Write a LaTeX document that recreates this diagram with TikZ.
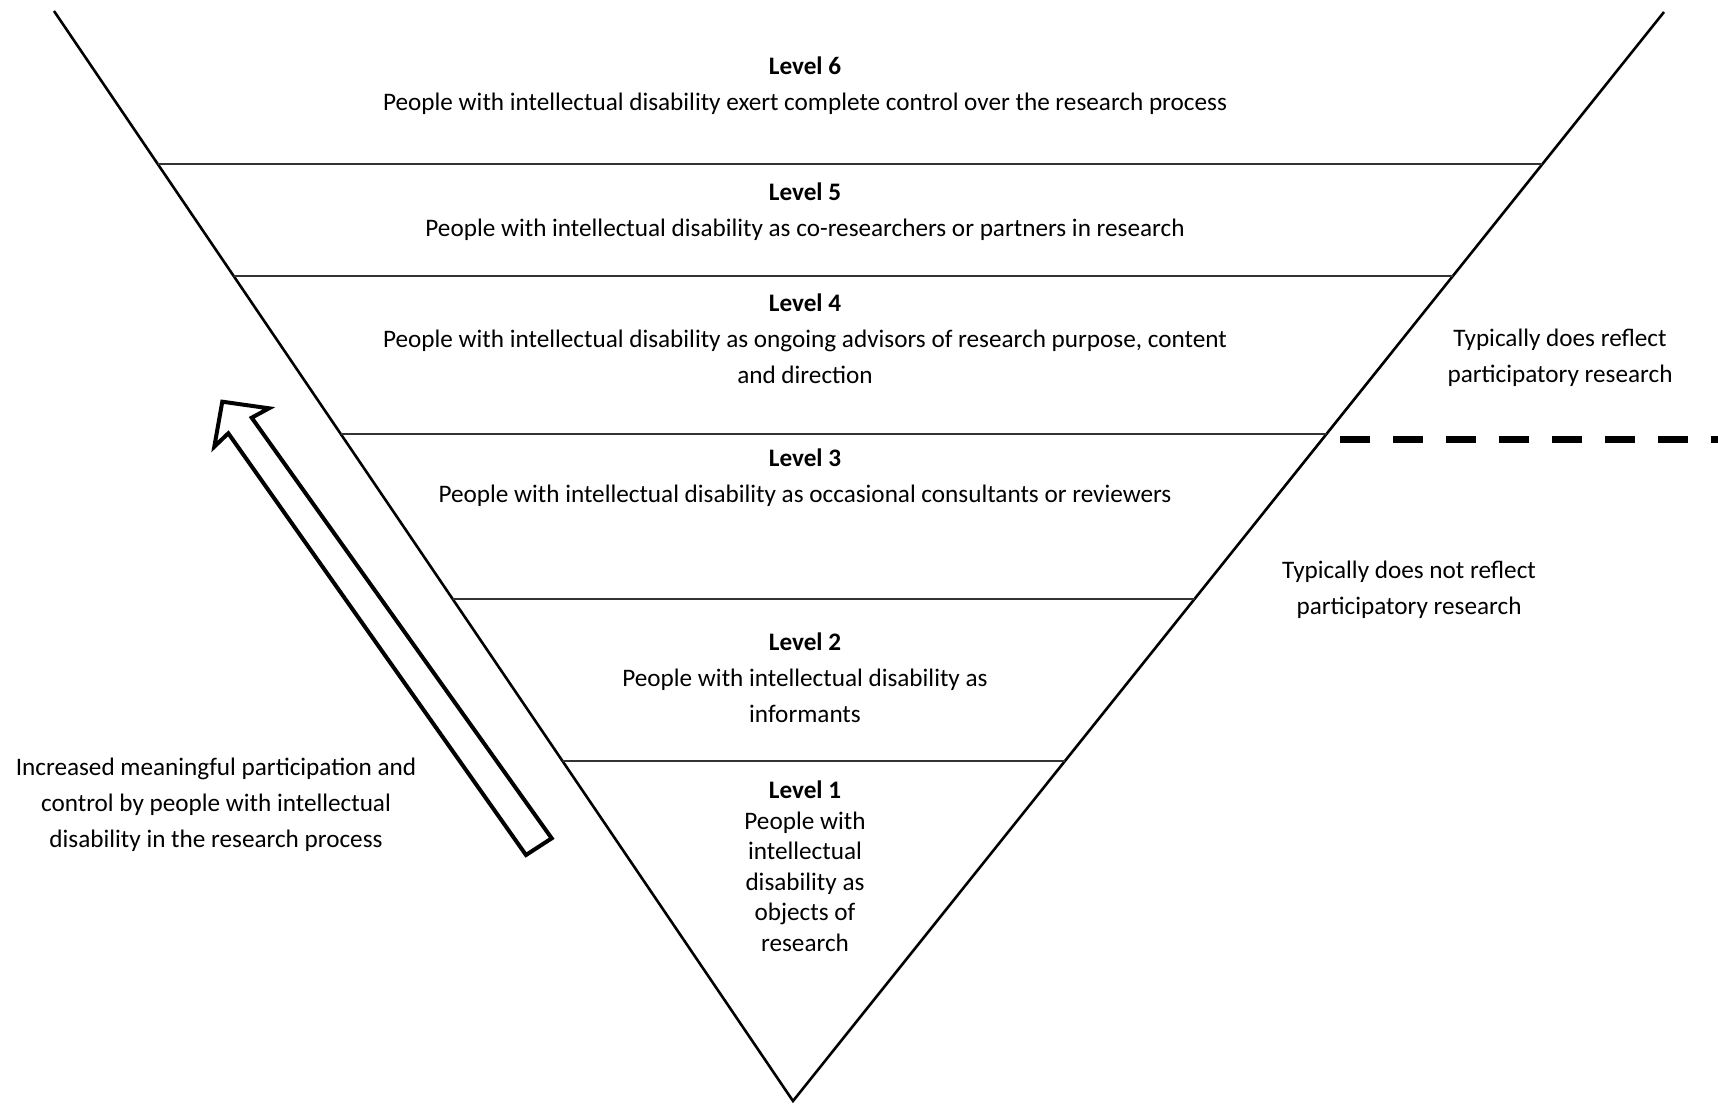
\documentclass[tikz,border=0pt]{standalone}
\usepackage{fontspec}
\setmainfont{Carlito}
\usetikzlibrary{calc}

\tikzset{
  rung/.style={line width=0.8pt, black!80},
  leveltext/.style={align=center, anchor=base, inner sep=0pt,
    font=\fontsize{12.6}{18}\selectfont},
  narrowtext/.style={leveltext, font=\fontsize{12.6}{15.25}\selectfont},
}

\begin{document}
\begin{tikzpicture}[x=0.5pt, y=-0.5pt]
  \useasboundingbox (0,0) rectangle (1718,1103);

  % funnel
  \draw [line width=1.3pt]
    (54,11) coordinate (TL)
    (1664,12) coordinate (TR)
    (793,1101) coordinate (V)
    (TL) -- (V) -- (TR);

  % rungs between the levels
  \foreach \y in {164, 276, 434, 599, 761} {
    \draw [rung] ($(TL)!{(\y-11)/1090}!(V)$) -- ($(TR)!{(\y-12)/1089}!(V)$);
  }

  % anchor base = baseline of the last line
  \node (lvl6) [leveltext] at (805,110)
    {\textbf{Level 6}\\People with intellectual disability exert complete control over the research process};
  \node (lvl5) [leveltext] at (805,236)
    {\textbf{Level 5}\\People with intellectual disability as co-researchers or partners in research};
  \node (lvl4) [leveltext] at (805,383)
    {\textbf{Level 4}\\People with intellectual disability as ongoing advisors of research purpose, content\\and direction};
  \node (lvl3) [leveltext] at (805,502)
    {\textbf{Level 3}\\People with intellectual disability as occasional consultants or reviewers};
  \node (lvl2) [leveltext] at (805,722)
    {\textbf{Level 2}\\People with intellectual disability as\\informants};
  \node (lvl1) [narrowtext] at (805,951)
    {\textbf{Level 1}\\People with\\intellectual\\disability as\\objects of\\research};

  % block arrow
  \draw [line width=2pt, line join=miter]
    (551.7,838.3) -- (251.7,417.7) -- (269,408.3) -- (222.3,401.7)
    -- (214.3,446.7) -- (228.3,433.3) -- (526,855) -- cycle;
  \node (more) [leveltext] at (216,847)
    {Increased meaningful participation and\\control by people with intellectual\\disability in the research process};

  % divide
  \draw [line width=3.5pt, dash pattern=on 15pt off 11.5pt]
    (1340,439) coordinate (cut) -- (1718,439);
  \node (does) [leveltext] at (1560,382)
    {Typically does reflect\\participatory research};
  \node (doesnot) [leveltext] at (1409,614)
    {Typically does not reflect\\participatory research};
\end{tikzpicture}
\end{document}
